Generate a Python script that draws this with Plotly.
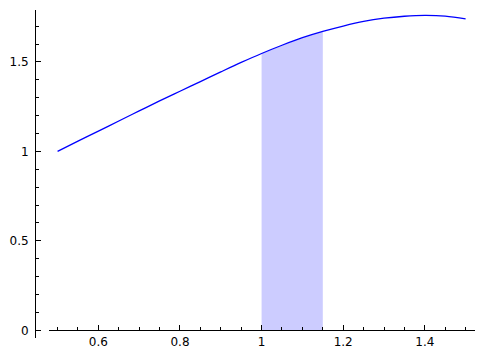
import plotly.graph_objects as go

# Curve values
x_vals = [0.50, 0.55, 0.60, 0.65, 0.70, 0.75, 0.80, 0.85, 0.90, 0.95, 1.00,
          1.05, 1.10, 1.15, 1.20, 1.25, 1.30, 1.35, 1.40, 1.45, 1.50]
y_vals = [1.000, 1.057, 1.113, 1.170, 1.226, 1.282, 1.336, 1.390, 1.444, 1.497, 1.547,
          1.593, 1.635, 1.670, 1.700, 1.726, 1.744, 1.755, 1.760, 1.756, 1.741]

# Shaded interval
shade_lo = 1.00
shade_hi = 1.15

x_tickvals = [0.6, 0.8, 1.0, 1.2, 1.4]
x_ticktext = ["0.6", "0.8", "1", "1.2", "1.4"]
y_tickvals = [0, 0.5, 1.0, 1.5]
y_ticktext = ["0", "0.5", "1", "1.5"]

shade_x = [x for x in x_vals if shade_lo - 1e-9 <= x <= shade_hi + 1e-9]
shade_y = [y for x, y in zip(x_vals, y_vals) if shade_lo - 1e-9 <= x <= shade_hi + 1e-9]

fig = go.Figure()
fig.add_trace(go.Scatter(x=shade_x, y=shade_y, mode="lines", line=dict(width=0, color="#ccccff"),
                         fill="tozeroy", fillcolor="#ccccff", hoverinfo="skip", showlegend=False))
fig.add_trace(go.Scatter(x=x_vals, y=y_vals, mode="lines", line=dict(color="#0000ff", width=1.3, shape="spline"),
                         showlegend=False))

axis_font = dict(family="DejaVu Sans", size=12, color="black")

fig.update_layout(
    width=484, height=358,
    margin=dict(l=35, r=9, t=10, b=18),
    paper_bgcolor="white", plot_bgcolor="white",
    xaxis=dict(
        domain=[14 / 440, 1], range=[0.479, 1.523],
        anchor="free", position=0.0233,
        showgrid=False, zeroline=False,
        showline=True, linecolor="black", linewidth=1,
        ticks="inside", ticklen=5, tickwidth=1, tickcolor="black",
        tickvals=x_tickvals, ticktext=x_ticktext, tickfont=axis_font,
        minor=dict(dtick=0.05, tick0=0, ticks="inside", ticklen=3, tickwidth=1, tickcolor="black", showgrid=False),
    ),
    yaxis=dict(
        domain=[0, 1], range=[-0.0427, 1.790],
        anchor="free", position=0,
        showgrid=False, zeroline=False,
        showline=True, linecolor="black", linewidth=1,
        ticks="inside", ticklen=5, tickwidth=1, tickcolor="black",
        tickvals=y_tickvals, ticktext=y_ticktext, tickfont=axis_font,
        ticklabelstandoff=4,
        minor=dict(dtick=0.1, tick0=0, ticks="inside", ticklen=3, tickwidth=1, tickcolor="black", showgrid=False),
    ),
)

fig.write_html("out.html")
